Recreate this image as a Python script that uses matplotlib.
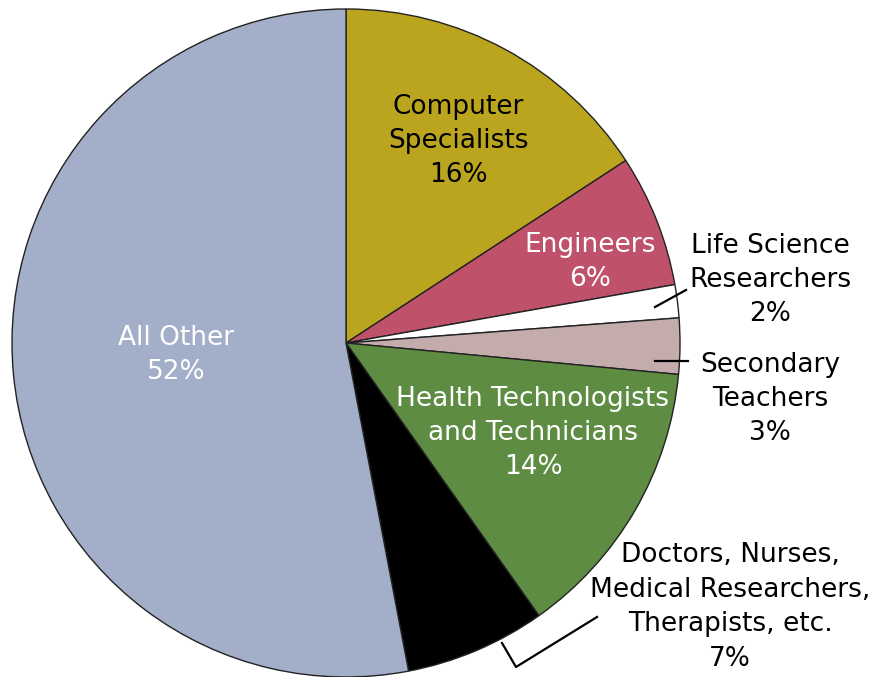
import numpy as np
from matplotlib import pyplot as plt

# shares (angles), label text uses the printed percentages
groups = ["Computer\nSpecialists", "Engineers", "Life Science\nResearchers",
          "Secondary\nTeachers", "Health Technologists\nand Technicians",
          "Doctors, Nurses,\nMedical Researchers,\nTherapists, etc.", "All Other"]
shares = [15.8, 6.4, 1.6, 2.7, 13.7, 6.8, 53.0]
pct_text = ["16%", "6%", "2%", "3%", "14%", "7%", "52%"]
colors = ["#BBA51F", "#C0516A", "#FFFFFF", "#C4ACAD", "#5E8C43", "#000000", "#A3AEC8"]

W, H = 874, 677
fig = plt.figure(figsize=(W / 100, H / 100), dpi=100)
ax = fig.add_axes([0, 0, 1, 1])

cx, cy, r = 346, H - 343, 334
ax.pie(shares, colors=colors, startangle=90, counterclock=False,
       center=(cx, cy), radius=r,
       wedgeprops=dict(edgecolor="#222222", linewidth=1.0))
ax.set_xlim(0, W)
ax.set_ylim(0, H)
ax.set_aspect("equal")
ax.axis("off")

font = "DejaVu Sans"
fs = 19

def label(i, x, y, color):
    # x, y in pixel coords of the picture (y from top)
    ax.text(x, H - y, groups[i] + "\n" + pct_text[i], ha="center", va="center",
            fontsize=fs, color=color, family=font, linespacing=1.42)

label(0, 458, 141, "black")
label(1, 590, 262, "white")
label(2, 770, 280, "black")
label(3, 770, 399, "black")
label(4, 533, 433, "white")
label(5, 730, 607, "black")
label(6, 176, 355, "white")

# leader lines
ax.plot([655, 686], [H - 307, H - 290], color="black", lw=1.6)
ax.plot([655, 688], [H - 361, H - 361], color="black", lw=1.6)
ax.plot([502, 516, 597], [H - 643, H - 667, H - 617], color="black", lw=1.6)

fig.savefig("out.png", dpi=100)
